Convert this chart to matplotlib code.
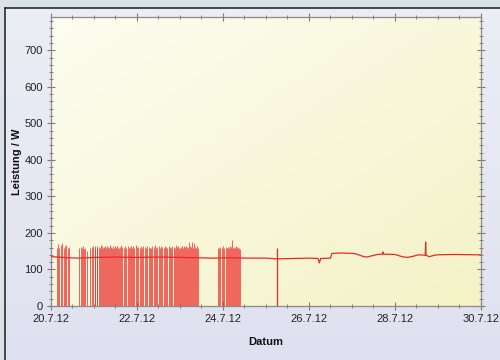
import numpy as np
import matplotlib
matplotlib.use("Agg")
import matplotlib.pyplot as plt
import matplotlib.dates as mdates
from matplotlib.ticker import MultipleLocator, FixedLocator, FixedFormatter

# ---- data -------------------------------------------------------------
start = np.datetime64("2012-07-20T00:00")

# switching bursts: hour (since 20.7.12 00:00) of each on/off event and peak power in W
burst1_hours = [3.3, 3.9, 4.7, 5.6, 6.4, 7.3, 7.8, 8.6, 9.5, 10.3]
burst1_peaks = [160, 170, 158, 166, 172, 160, 163, 168, 158, 162]

burst2_hours = [15.9, 16.5, 17.3, 17.9, 18.4, 19.0, 20.1, 22.0, 22.9, 23.4,
                24.3, 24.8, 25.4, 25.9, 26.8, 27.3, 27.9, 28.5, 29.0, 29.6,
                30.1, 30.7, 31.2, 31.8, 32.4, 32.9, 33.5, 34.0, 34.6, 35.2,
                35.7, 36.3, 36.8, 37.4, 37.9, 38.5, 39.1, 39.6, 40.5, 41.3,
                41.9, 42.7, 43.5, 44.1, 44.6, 45.2, 45.8, 46.6, 47.4, 48.0,
                48.8, 49.7, 50.2, 50.8, 51.6, 52.5, 53.0, 53.8, 54.7, 55.2,
                55.8, 56.6, 57.5, 58.0, 58.6, 59.4, 60.3, 60.8, 61.4, 61.9,
                62.8, 63.6, 64.2, 64.7, 65.6, 66.4, 67.0, 67.5, 68.4, 69.2,
                69.8, 70.3, 70.9, 71.4, 72.0, 72.5, 73.1, 73.7, 74.2, 74.8,
                75.3, 75.9, 76.4, 77.0, 77.6, 78.1, 78.7, 79.2, 79.8, 80.4,
                80.9, 81.5, 82.0]
burst2_peaks = [158, 162, 160, 163, 155, 160, 150, 158, 161, 164,
                160, 163, 158, 165, 162, 160, 166, 163, 158, 162,
                165, 160, 163, 161, 158, 166, 162, 160, 164, 159,
                163, 161, 165, 160, 158, 162, 166, 161, 159, 163,
                160, 164, 158, 162, 165, 160, 163, 159, 166, 161,
                162, 158, 164, 160, 163, 161, 159, 165, 162, 160,
                158, 163, 161, 166, 160, 162, 164, 159, 163, 161,
                160, 165, 162, 158, 163, 161, 160, 164, 162, 159,
                166, 162, 163, 160, 158, 161, 164, 160, 163, 161,
                165, 162, 160, 174, 163, 161, 176, 160, 172, 162,
                160, 163, 158]

burst3_hours = [93.2, 93.8, 94.6, 95.4, 96.0, 96.8, 97.7, 98.2, 98.8, 99.3,
                99.9, 100.4, 101.0, 101.6, 102.1, 102.7, 103.2, 103.8, 104.3,
                105.2, 105.7]
burst3_peaks = [158, 160, 162, 159, 163, 160, 161, 158, 162, 160,
                164, 161, 180, 159, 162, 160, 163, 161, 158, 160, 157]

single_hours = [126.3]
single_peaks = [159]

# standby / base load
base_hours = [0, 4, 10, 16, 24, 36, 48, 60, 72, 82, 90, 100, 110, 120, 126,
              135, 145, 149, 149.8, 150.5, 156, 156.8, 162, 168, 170, 174,
              176, 178, 182, 185, 185.2, 185.5, 192, 196, 199, 202, 205, 208.9,
              209.1, 209.3, 211, 215, 225, 240]
base_watts = [135, 134, 132, 131, 133, 134, 133, 134, 133, 132, 131, 132, 131, 131, 129,
              130, 131, 130, 118, 130, 131, 144, 145, 144, 143, 136,
              134, 136, 141, 142, 148, 142, 141, 135, 133, 136, 140, 139,
              175, 139, 135, 140, 141, 140]

x_tick_hours = [0, 48, 96, 144, 192, 240]
x_tick_labels = ["20.7.12", "22.7.12", "24.7.12", "26.7.12", "28.7.12", "30.7.12"]
y_ticks = [0, 100, 200, 300, 400, 500, 600, 700]


def to_time(hours):
    minutes = np.round(np.asarray(hours, dtype=float) * 60).astype(int)
    return start + minutes.astype("timedelta64[m]")


# ---- figure -----------------------------------------------------------
W, H = 500, 360
fig = plt.figure(figsize=(W / 100, H / 100), dpi=100)
fig.patch.set_facecolor("#dae2e9")

# framed panel with soft lavender gradient
panel = fig.add_axes([5 / W, 0, 1 - 5 / W, 1 - 8 / H])
grad = np.linspace(0, 1, 256).reshape(-1, 1)
c_top = np.array([0xec, 0xee, 0xf5]) / 255
c_bot = np.array([0xe0, 0xe1, 0xf0]) / 255
img = c_top[None, None, :] * (1 - grad[:, :, None]) + c_bot[None, None, :] * grad[:, :, None]
panel.imshow(img, aspect="auto", extent=[0, 1, 0, 1])
panel.set_xlim(0, 1)
panel.set_ylim(0, 1)
panel.set_xticks([])
panel.set_yticks([])
for side in ("right", "bottom"):
    panel.spines[side].set_visible(False)
for side in ("left", "top"):
    panel.spines[side].set_color("#2b2b2b")
    panel.spines[side].set_linewidth(1.2)

ax = fig.add_axes([51 / W, 1 - 306 / H, 430 / W, 289 / H])

x0 = to_time([0])[0]
x1 = to_time([240])[0]
ax.set_xlim(x0, x1)
ax.set_ylim(0, 791)

# pale yellow diagonal gradient inside the plot area
yy, xx = np.mgrid[0:1:200j, 0:1:200j]
t = (xx + yy) / 2
c_a = np.array([0xfd, 0xfd, 0xf1]) / 255
c_b = np.array([0xf4, 0xf2, 0xc6]) / 255
bg = c_a[None, None, :] * (1 - t[:, :, None]) + c_b[None, None, :] * t[:, :, None]
ax.imshow(bg, aspect="auto", extent=[mdates.date2num(x0), mdates.date2num(x1), 0, 791],
          origin="upper", zorder=0)

spike_color = "#ec2626"
for hrs, pk in ((burst1_hours, burst1_peaks), (burst2_hours, burst2_peaks),
                (burst3_hours, burst3_peaks)):
    ax.vlines(to_time(hrs), 0, pk, colors=spike_color, linewidth=0.7, alpha=0.7, zorder=2)
ax.vlines(to_time(single_hours), 0, single_peaks, colors="#e62b24", linewidth=0.9, zorder=2)

ax.plot(to_time(base_hours), base_watts, color="#e62b24", linewidth=0.9, zorder=3)

# ticks
tick_family = ["Liberation Sans Narrow", "Liberation Sans"]
ax.xaxis.set_major_locator(FixedLocator(mdates.date2num(to_time(x_tick_hours))))
ax.xaxis.set_major_formatter(FixedFormatter(x_tick_labels))
ax.xaxis.set_minor_locator(FixedLocator(mdates.date2num(to_time(np.arange(0, 241, 12)))))
ax.yaxis.set_major_locator(FixedLocator(y_ticks))
ax.yaxis.set_minor_locator(MultipleLocator(20))

for lab in ax.get_xticklabels() + ax.get_yticklabels():
    lab.set_fontfamily(tick_family)
    lab.set_fontsize(8)
    lab.set_color("#222222")

ax.tick_params(axis="both", which="major", direction="inout", length=6, width=0.8,
               color="#7a7a7a", pad=3)
ax.tick_params(axis="both", which="minor", direction="inout", length=3, width=0.7,
               color="#7a7a7a")
ax.tick_params(top=True, right=True, which="both")

for s in ax.spines.values():
    s.set_color("#8a8a8a")
    s.set_linewidth(0.9)

label_font = dict(family=["Liberation Sans", "DejaVu Sans"], size=8, weight="bold", color="#111111")
ax.set_xlabel("Datum", labelpad=9, **label_font)
ax.set_ylabel("Leistung / W", **label_font)
ax.yaxis.set_label_coords(-29 / 430, 0.5)

fig.savefig("out.png", dpi=100, facecolor=fig.get_facecolor())
